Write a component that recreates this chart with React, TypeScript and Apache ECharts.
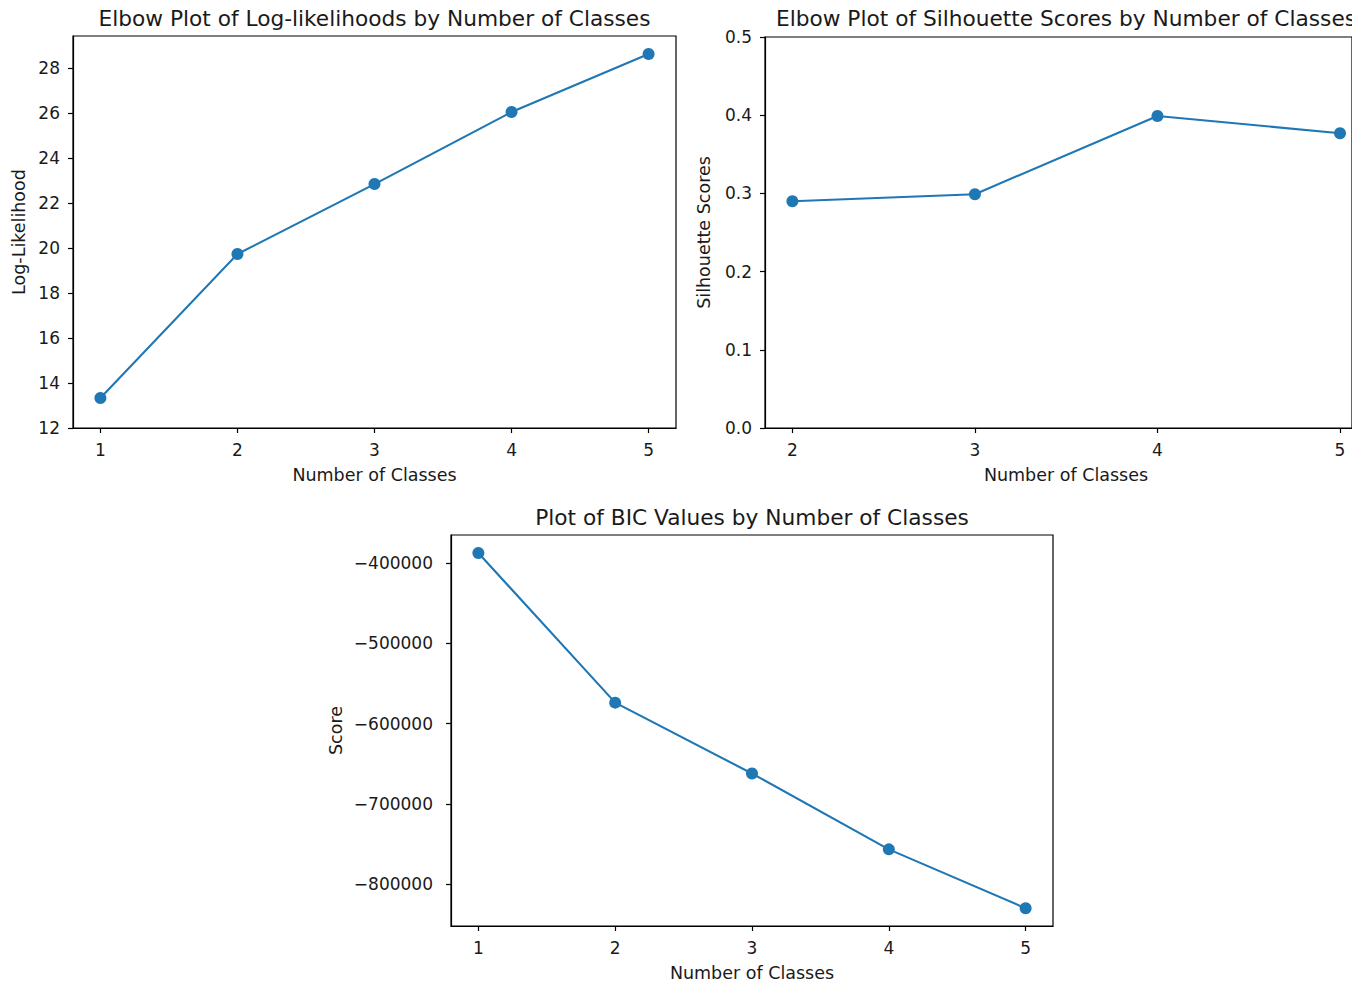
import React, { useEffect, useRef } from "react";
import * as echarts from "echarts";

// ---- data ----
const logLikClasses = [1, 2, 3, 4, 5];
const logLikValues = [13.33, 19.73, 22.84, 26.04, 28.62];
const logLikTicks = [12, 14, 16, 18, 20, 22, 24, 26, 28];

const silClasses = [2, 3, 4, 5];
const silValues = [0.29, 0.299, 0.399, 0.377];
const silTicks = [0, 0.1, 0.2, 0.3, 0.4, 0.5];

const bicClasses = [1, 2, 3, 4, 5];
const bicValues = [-387600, -573900, -662100, -756500, -829800];
const bicTicks = [-800000, -700000, -600000, -500000, -400000];

const titles = [
  "Elbow Plot of Log-likelihoods by Number of Classes",
  "Elbow Plot of Silhouette Scores by Number of Classes",
  "Plot of BIC Values by Number of Classes",
];
const xName = "Number of Classes";
const yNames = ["Log-Likelihood", "Silhouette Scores", "Score"];

const FONT = "DejaVu Sans";
const TXT = "#1a1a1a";
const BLUE = "#1f77b4";

function xAxisCfg(gridIndex: number, min: number, max: number, ticks: number[], namePadLeft: number) {
  return {
    type: "value",
    gridIndex,
    min,
    max,
    name: xName,
    nameLocation: "middle",
    nameGap: 38,
    nameTextStyle: { fontFamily: FONT, fontSize: 17.5, color: TXT, padding: [0, 0, 0, namePadLeft] },
    splitLine: { show: false },
    axisLine: { show: true, onZero: false, lineStyle: { color: "#000", width: 1.2 } },
    axisTick: { show: true, length: 5, customValues: ticks, lineStyle: { color: "#000", width: 1.2 } },
    axisLabel: {
      customValues: ticks,
      fontFamily: FONT,
      fontSize: 17,
      color: TXT,
      margin: 13,
      formatter: (v: number) => String(v),
    },
  };
}

function yAxisCfg(
  gridIndex: number,
  min: number,
  max: number,
  ticks: number[],
  name: string,
  nameGap: number,
  margin: number,
  fmt: (v: number) => string
) {
  return {
    type: "value",
    gridIndex,
    min,
    max,
    name,
    nameLocation: "middle",
    nameGap,
    nameTextStyle: { fontFamily: FONT, fontSize: 17.5, color: TXT },
    splitLine: { show: false },
    axisLine: { show: true, onZero: false, lineStyle: { color: "#000", width: 1.2 } },
    axisTick: { show: true, length: 5, customValues: ticks, lineStyle: { color: "#000", width: 1.2 } },
    axisLabel: {
      customValues: ticks,
      fontFamily: FONT,
      fontSize: 17,
      color: TXT,
      margin,
      formatter: fmt,
    },
  };
}

function seriesCfg(idx: number, xs: number[], ys: number[]) {
  return {
    type: "line",
    xAxisIndex: idx,
    yAxisIndex: idx,
    data: xs.map((x, i) => [x, ys[i]]),
    symbol: "circle",
    symbolSize: 12,
    showSymbol: true,
    lineStyle: { color: BLUE, width: 2.1 },
    itemStyle: { color: BLUE },
    z: 3,
  };
}

const minusFmt = (v: number) => (v < 0 ? "\u2212" + Math.abs(v) : String(v));

export default function App() {
  const ref = useRef<HTMLDivElement>(null);
  useEffect(() => {
    if (!ref.current) return;
    const chart = echarts.init(ref.current, undefined, { renderer: "svg" });
    const gridBase = { show: true, borderColor: "#000", borderWidth: 1.2, backgroundColor: "transparent", containLabel: false };
    const titleStyle = { fontFamily: FONT, fontSize: 21.7, fontWeight: "normal", color: TXT };
    chart.setOption({
      animation: false,
      backgroundColor: "#ffffff",
      title: [
        { text: titles[0], left: 374.5, top: 7, textAlign: "center", padding: 0, textStyle: titleStyle },
        { text: titles[1], left: 1066, top: 7, textAlign: "center", padding: 0, textStyle: titleStyle },
        { text: titles[2], left: 752, top: 506, textAlign: "center", padding: 0, textStyle: titleStyle },
      ],
      grid: [
        { ...gridBase, left: 73, top: 36, width: 603, height: 392 },
        { ...gridBase, left: 765, top: 37, width: 587, height: 391 },
        { ...gridBase, left: 451, top: 535, width: 602, height: 391 },
      ],
      xAxis: [
        xAxisCfg(0, 0.8, 5.2, logLikClasses, 0),
        xAxisCfg(1, 1.85, 5.0657, silClasses, 15),
        xAxisCfg(2, 0.8, 5.2, bicClasses, 0),
      ],
      yAxis: [
        yAxisCfg(0, 12, 29.42, logLikTicks, yNames[0], 45, 13, (v: number) => String(v)),
        yAxisCfg(1, 0, 0.5, silTicks, yNames[1], 52, 13, (v: number) => v.toFixed(1)),
        yAxisCfg(2, -851900, -365200, bicTicks, yNames[2], 106, 18, minusFmt),
      ],
      series: [
        seriesCfg(0, logLikClasses, logLikValues),
        seriesCfg(1, silClasses, silValues),
        seriesCfg(2, bicClasses, bicValues),
      ],
    });
    return () => chart.dispose();
  }, []);
  return (
    <div
      ref={ref}
      style={{ position: "absolute", left: 0, top: 0, width: 1352, height: 985, background: "#fff" }}
    />
  );
}
